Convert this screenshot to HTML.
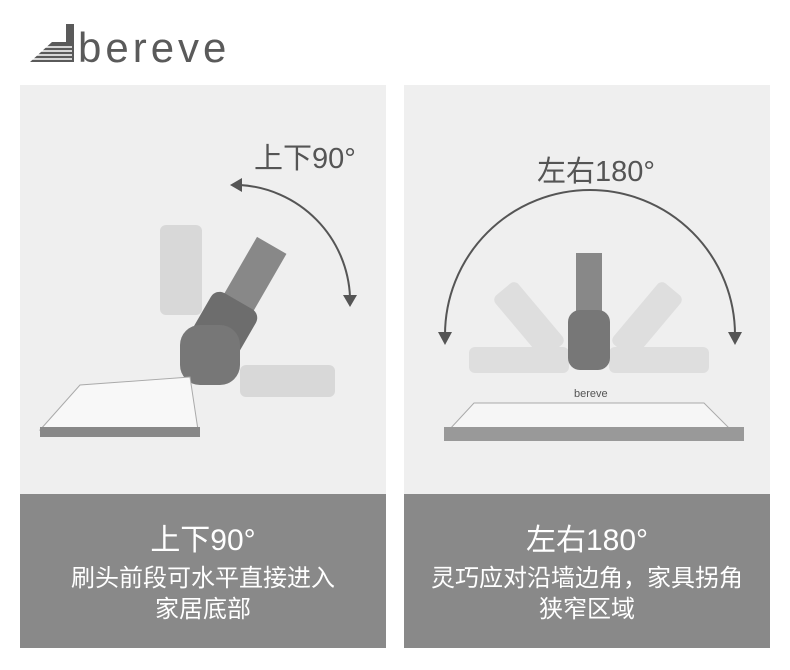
<!DOCTYPE html>
<html><head><meta charset="utf-8"><style>
body{margin:0;width:790px;height:670px;background:#fff;position:relative;overflow:hidden;font-family:"Liberation Sans","Noto Sans CJK SC",sans-serif}
.p{position:absolute;top:85px;width:366px;height:563px;background:#efefef}
.d{position:absolute;left:0;top:409px;width:366px;height:154px;background:#898989;color:#fff;text-align:center}
.t{font-size:30px;margin-top:28px;line-height:38px}
.s{font-size:24px;line-height:31px;margin-top:3px}
.lab{position:absolute;font-size:29px;color:#555}
</style></head><body>
<div style="position:absolute;left:28px;top:18px;width:220px;height:52px">
<svg width="220" height="52">
<polygon points="38,6 46,6 46,44 2,44 24,24 38,24" fill="#5a5a5a"/>
<g stroke="#fff" stroke-width="1.6">
<line x1="0" y1="29" x2="44" y2="29"/><line x1="0" y1="33" x2="44" y2="33"/><line x1="0" y1="37" x2="44" y2="37"/><line x1="0" y1="41" x2="44" y2="41"/>
</g>
<text x="50" y="44" font-size="42" fill="#5a5a5a" font-family="Liberation Sans" letter-spacing="4">bereve</text>
</svg></div>

<div class="p" style="left:20px">
<div class="lab" style="left:234px;top:50px">上下90°</div>
<svg width="366" height="409" style="position:absolute;left:0;top:0">
<path d="M220,100 A117,117 0 0 1 330,212" fill="none" stroke="#555" stroke-width="2"/>
<polygon points="210,100 222,93 222,107" fill="#555"/>
<polygon points="330,222 323,210 337,210" fill="#555"/>
<g fill="#d8d8d8"><rect x="140" y="140" width="42" height="90" rx="6"/><rect x="220" y="280" width="95" height="32" rx="6"/></g>
<g transform="rotate(30 215 220)"><rect x="200" y="150" width="34" height="70" fill="#888"/><rect x="190" y="215" width="52" height="70" rx="10" fill="#6d6d6d"/></g>
<rect x="160" y="240" width="60" height="60" rx="20" fill="#777"/>
<path d="M20,345 L60,300 L170,292 L178,345 Z" fill="#f8f8f8" stroke="#aaa"/>
<rect x="20" y="342" width="160" height="10" fill="#888"/>
</svg>
<div class="d"><div class="t">上下90°</div><div class="s">刷头前段可水平直接进入<br>家居底部</div></div>
</div>

<div class="p" style="left:404px">
<div class="lab" style="left:133px;top:63px">左右180°</div>
<svg width="366" height="409" style="position:absolute;left:0;top:0">
<path d="M41,250 A145,145 0 0 1 331,250" fill="none" stroke="#555" stroke-width="2"/>
<polygon points="41,260 34,247 48,247" fill="#555"/>
<polygon points="331,260 324,247 338,247" fill="#555"/>
<g fill="#dedede"><rect x="65" y="262" width="100" height="26" rx="6"/><rect x="205" y="262" width="100" height="26" rx="6"/>
<rect x="110" y="195" width="30" height="80" rx="6" transform="rotate(-40 125 235)"/><rect x="228" y="195" width="30" height="80" rx="6" transform="rotate(40 243 235)"/></g>
<rect x="172" y="168" width="26" height="60" fill="#888"/>
<rect x="164" y="225" width="42" height="60" rx="12" fill="#777"/>
<path d="M45,345 L70,318 L300,318 L327,345 Z" fill="#f6f6f6" stroke="#aaa"/>
<rect x="40" y="342" width="300" height="14" fill="#999"/>
<text x="170" y="312" font-size="11" fill="#555">bereve</text>
</svg>
<div class="d"><div class="t">左右180°</div><div class="s">灵巧应对沿墙边角，家具拐角<br>狭窄区域</div></div>
</div>
</body></html>
